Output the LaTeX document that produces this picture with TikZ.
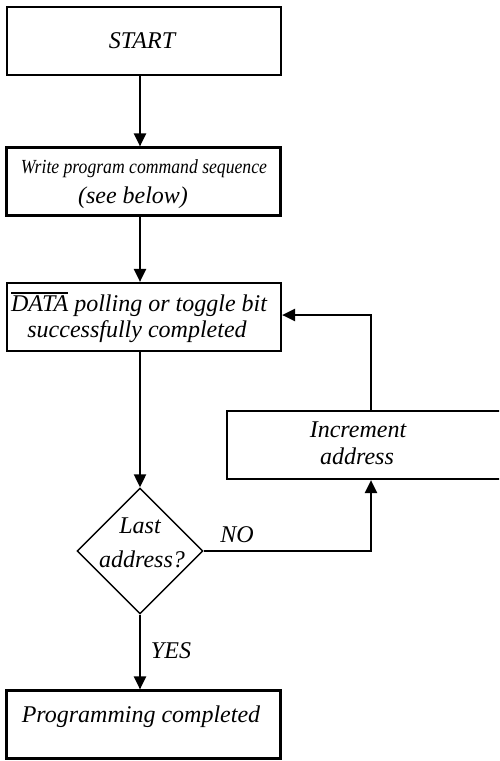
\documentclass[tikz,border=0pt]{standalone}
\usepackage{fontspec}
\usepackage{graphicx}
\setmainfont{Liberation Serif}
\usetikzlibrary{shapes.geometric,arrows.meta}
\newcommand\myovl[1]{\leavevmode\vbox{\hrule height 1.3pt\kern 1.6pt\hbox{#1}}}
\begin{document}
\begin{tikzpicture}[x=1pt,y=-1pt,
  every node/.style={font=\itshape\fontsize{24}{28}\selectfont, inner sep=0pt},
  box/.style={draw, line width=2.2pt, minimum width=274pt, minimum height=68pt},
  txt/.style={anchor=base},
  arr/.style={line width=2.2pt, -{Triangle[length=13pt,width=12pt]}}]
\clip (0,0) rectangle (499,761);
% boxes
\node[box] (start) at (144,41) {};
\node[box] (write) at (143.5,181.5) {};
\node[box] (data) at (144,317) {};
\node[box, minimum width=276pt] (inc) at (365,445) {};
\node[box] (prog) at (143.5,724.5) {};
\node[draw, diamond, line width=1.4pt, minimum width=126pt, minimum height=126pt, aspect=1] (dec) at (140,551) {};
% texts
\node[txt] (startt) at (142,48) {START};
\node[txt] (write1) at (144,173) {\resizebox{246pt}{\height}{\fontsize{20}{22}\selectfont\itshape Write program command sequence}};
\node[txt] (write2) at (133,203) {(see below)};
\node[txt] (data1) at (139,311) {\myovl{DATA} polling or toggle bit};
\node[txt] (data2) at (137,337) {successfully completed};
\node[txt] (inc1) at (358,437) {Increment};
\node[txt] (inc2) at (357,464) {address};
\node[txt] (dec1) at (140,533) {Last};
\node[txt] (dec2) at (142,567) {address?};
\node[txt] (prog1) at (141,722) {Programming completed};
\node[txt] (yes) at (171,658) {YES};
\node[txt] (no) at (237,542) {NO};
% connectors
\draw[arr] (start.south -| dec.north) -- (write.north -| dec.north);
\draw[arr] (write.south -| dec.north) -- (data.north -| dec.north);
\draw[arr] (data.south -| dec.north) -- (dec.north);
\draw[arr] (dec.south) -- (prog.north -| dec.south);
\coordinate (noc) at (371,551);
\draw[arr] (dec.east) -- (noc) -- (inc.south -| noc);
\draw[arr] (inc.north -| noc) |- ([yshift=2pt]data.east);
\end{tikzpicture}
\end{document}
